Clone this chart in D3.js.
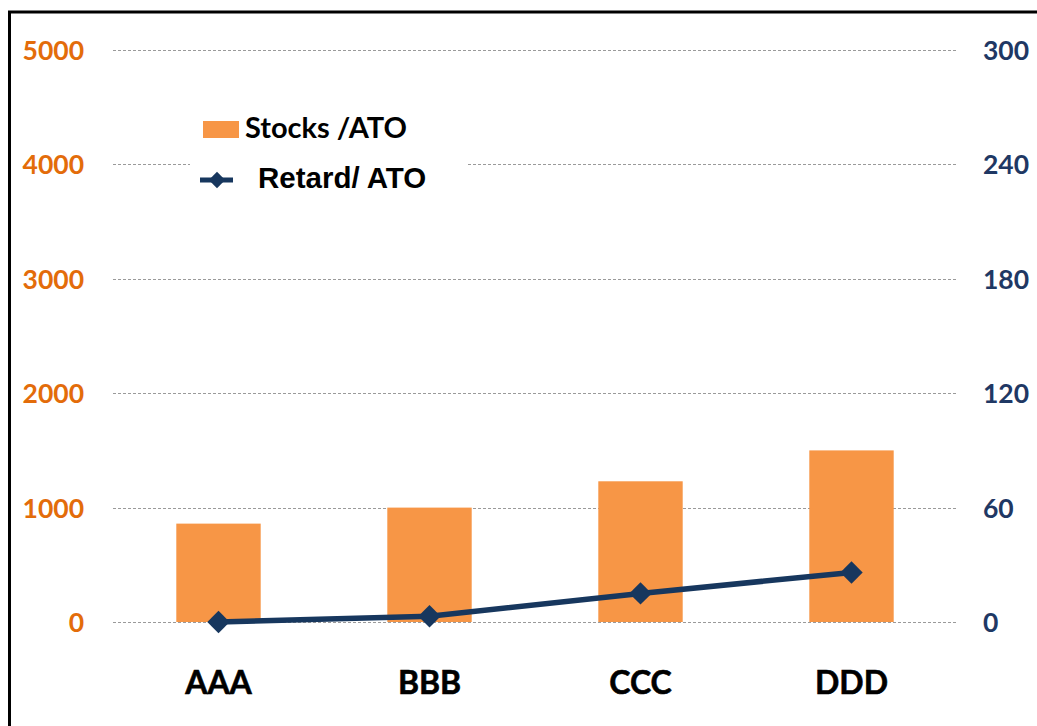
<!DOCTYPE html>
<html>
<head>
<meta charset="utf-8">
<script src="https://cdn.jsdelivr.net/npm/d3@7"></script>
<style>
  html, body { margin: 0; padding: 0; background: #fff; }
  svg { display: block; }
</style>
</head>
<body>
<svg id="chart" width="1037" height="726"></svg>
<script>
// Categories and series
const categories = ["AAA", "BBB", "CCC", "DDD"];
const stocks = [860, 1000, 1230, 1500];      // bars, left axis
const retard = [0, 3, 15, 26];               // line, right axis
const leftTicks = [0, 1000, 2000, 3000, 4000, 5000];
const rightTicks = [0, 60, 120, 180, 240, 300];
const legendLabels = ["Stocks /ATO", "Retard/ ATO"];

const svg = d3.select("#chart");
const W = 1037, H = 726;
const plot = { left: 113, right: 957, top: 50, bottom: 622 };

const orange = "#F79646";
const navy = "#17375E";
const leftLabelColor = "#E36C0A";
const rightLabelColor = "#1F3864";
const labelFont = "Lato, 'Open Sans', sans-serif";

// Frame (left and top edges visible)
svg.append("rect")
  .attr("x", 9.5).attr("y", 12).attr("width", W + 20).attr("height", H + 20)
  .attr("fill", "#fff").attr("stroke", "#000").attr("stroke-width", 3);

const x = d3.scaleBand().domain(categories)
  .range([plot.left, plot.right]).paddingInner(0.6).paddingOuter(0.3);
const yL = d3.scaleLinear().domain([0, 5000]).range([plot.bottom, plot.top]);
const yR = d3.scaleLinear().domain([0, 300]).range([plot.bottom, plot.top]);

// Gridlines
svg.append("g").selectAll("line").data(leftTicks).join("line")
  .attr("x1", plot.left).attr("x2", plot.right)
  .attr("y1", d => Math.round(yL(d)) + 0.5).attr("y2", d => Math.round(yL(d)) + 0.5)
  .attr("stroke", "#9a9a9a").attr("stroke-width", 1).attr("stroke-dasharray", "3,2");

// Left axis labels
const leftAxis = d3.axisLeft(yL).tickValues(leftTicks).tickFormat(d3.format("d"))
  .tickSize(0).tickPadding(0);
const gL = svg.append("g").attr("transform", "translate(84,0)").call(leftAxis);
gL.select(".domain").remove();
gL.selectAll("text")
  .attr("fill", leftLabelColor).attr("font-family", labelFont)
  .attr("font-weight", "bold").attr("font-size", 26.5).attr("dy", "0.36em");

// Right axis labels
const rightAxis = d3.axisRight(yR).tickValues(rightTicks).tickFormat(d3.format("d"))
  .tickSize(0).tickPadding(0);
const gR = svg.append("g").attr("transform", "translate(983,0)").call(rightAxis);
gR.select(".domain").remove();
gR.selectAll("text")
  .attr("fill", rightLabelColor).attr("font-family", labelFont)
  .attr("font-weight", "bold").attr("font-size", 26.5).attr("dy", "0.36em");

// Bars
svg.append("g").selectAll("rect").data(categories).join("rect")
  .attr("x", d => x(d)).attr("width", x.bandwidth())
  .attr("y", (d, i) => yL(stocks[i]))
  .attr("height", (d, i) => yL(0) - yL(stocks[i]))
  .attr("fill", orange);

// Line with diamond markers
const cx = d => x(d) + x.bandwidth() / 2;
const line = d3.line().x((d, i) => cx(categories[i])).y(d => yR(d));
svg.append("path").datum(retard)
  .attr("d", line).attr("fill", "none")
  .attr("stroke", navy).attr("stroke-width", 5.5).attr("stroke-linejoin", "round");

const diamond = d3.symbol().type(d3.symbolDiamond2).size(320);
svg.append("g").selectAll("path").data(retard).join("path")
  .attr("d", diamond)
  .attr("transform", (d, i) => `translate(${cx(categories[i])},${yR(d)})`)
  .attr("fill", navy);

// Category labels
const xAxis = d3.axisBottom(x).tickSize(0).tickPadding(0);
const gX = svg.append("g").attr("transform", "translate(0,671)").call(xAxis);
gX.select(".domain").remove();
gX.selectAll("text")
  .attr("fill", "#000").attr("font-family", labelFont)
  .attr("font-weight", "bold").attr("font-size", 32).attr("dy", "0.72em")
  .attr("stroke", "#000").attr("stroke-width", 0.6);

// Legend
const lg = svg.append("g");
lg.append("rect").attr("x", 190).attr("y", 110).attr("width", 278).attr("height", 92).attr("fill", "#fff");
lg.append("rect").attr("x", 203).attr("y", 121).attr("width", 36).attr("height", 17).attr("fill", orange);
lg.append("text").attr("x", 245).attr("y", 138).text(legendLabels[0])
  .attr("font-family", labelFont).attr("font-weight", "bold")
  .attr("font-size", 29).attr("fill", "#000");
lg.append("line").attr("x1", 200).attr("x2", 233).attr("y1", 180).attr("y2", 180)
  .attr("stroke", navy).attr("stroke-width", 5);
lg.append("path").attr("d", d3.symbol().type(d3.symbolDiamond2).size(170))
  .attr("transform", "translate(217,180)").attr("fill", navy);
lg.append("text").attr("x", 258).attr("y", 188).text(legendLabels[1])
  .attr("font-family", "'Liberation Sans', Arial, sans-serif").attr("font-weight", "bold")
  .attr("font-size", 29.5).attr("fill", "#000");
</script>
</body>
</html>
